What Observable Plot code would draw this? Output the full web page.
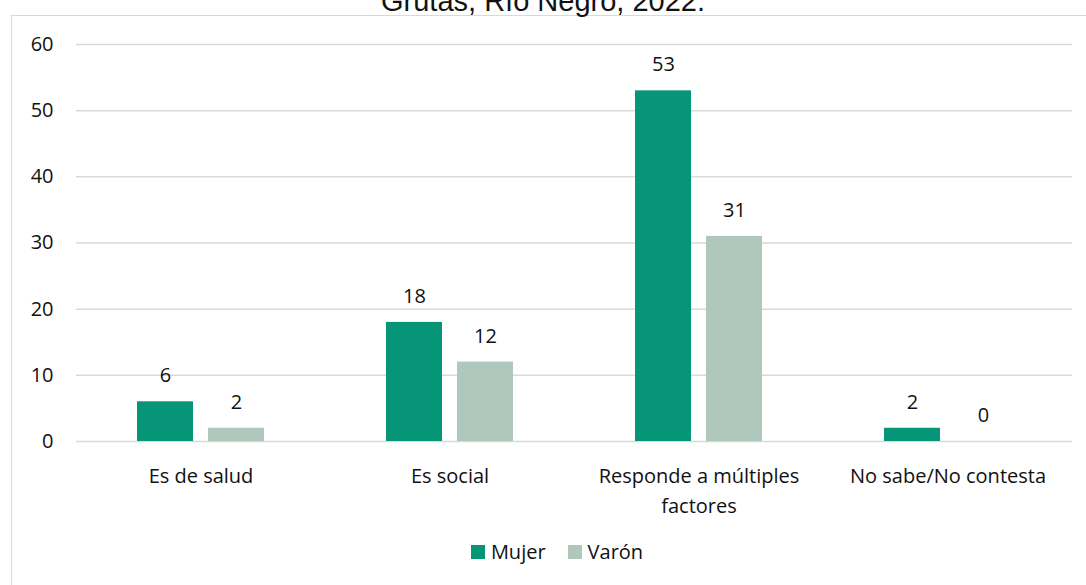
<!DOCTYPE html>
<html>
<head>
<meta charset="utf-8">
<script src="https://cdn.jsdelivr.net/npm/d3@7"></script>
<script src="https://cdn.jsdelivr.net/npm/@observablehq/plot@0.6"></script>
<style>
  html, body { margin: 0; padding: 0; background: #fff; overflow: hidden; }
  #wrap { position: relative; width: 1086px; height: 585px; overflow: hidden; }
  #frame { position: absolute; left: 11px; top: 15px; width: 1090px; height: 600px; border: 1.5px solid #d9d9d9; box-sizing: border-box; }
  #title { position: absolute; left: 0; width: 1086px; top: -13px; line-height: 29px; text-align: center; font-family: "Liberation Sans", Arial, sans-serif; font-size: 29px; color: #111; white-space: nowrap; }
  #chart { position: absolute; left: 0; top: 0; }
  #legend { position: absolute; left: 14px; width: 1086px; top: 540px; line-height: 24px; display: flex; justify-content: center; gap: 22px; font-family: "Open Sans", sans-serif; font-size: 20px; color: #111; }
  .item { display: flex; align-items: center; gap: 6px; }
  .sw { width: 14px; height: 14px; display: inline-block; }
</style>
</head>
<body>
<div id="wrap">
  <div id="frame"></div>
  <div id="title">Grutas, Río Negro, 2022.</div>
  <div id="chart"></div>
  <div id="legend"></div>
</div>
<script>
const categories = ["Es de salud", "Es social", "Responde a múltiples factores", "No sabe/No contesta"];
const categoryLabels = ["Es de salud", "Es social", "Responde a múltiples\nfactores", "No sabe/No contesta"];
const series = ["Mujer", "Varón"];
const mujer = [6, 18, 53, 2];
const varon = [2, 12, 31, 0];
const colors = ["#069677", "#afc8bb"];
const yTicks = [0, 10, 20, 30, 40, 50, 60];

const data = [];
categories.forEach((c, i) => {
  data.push({category: c, sex: "Mujer", value: mujer[i]});
  data.push({category: c, sex: "Varón", value: varon[i]});
});
const labelOf = new Map(categories.map((c, i) => [c, categoryLabels[i]]));
const font = "'Open Sans', sans-serif";
const fs = 20;

const chart = Plot.plot({
  width: 1086,
  height: 530,
  marginLeft: 75,
  marginRight: 14,
  marginTop: 44,
  marginBottom: 89,
  style: {fontFamily: font, fontSize: fs + "px", color: "#111", background: "transparent"},
  fx: {domain: categories, padding: 0, label: null, axis: null},
  x: {domain: series, paddingInner: 0.211, paddingOuter: 0.859, axis: null},
  y: {domain: [0, 60], label: null},
  color: {domain: series, range: colors},
  marks: [
    Plot.gridY(yTicks, {stroke: "#d9d9d9", strokeOpacity: 1, strokeWidth: 1.5}),
    Plot.axisY(yTicks, {tickSize: 0, tickPadding: 23, label: null, fontSize: fs}),
    Plot.axisFx({anchor: "bottom", tickSize: 0, tickPadding: 20, label: null, fontSize: fs, lineHeight: 1.5, tickFormat: d => labelOf.get(d)}),
    Plot.barY(data, {fx: "category", x: "sex", y: "value", fill: "sex"}),
    Plot.text(data, {fx: "category", x: "sex", y: "value", text: d => String(d.value), dy: -26, fontSize: fs, fill: "#111"})
  ]
});
document.getElementById("chart").appendChild(chart);

const legend = document.getElementById("legend");
series.forEach((s, i) => {
  const it = document.createElement("div");
  it.className = "item";
  it.innerHTML = `<span class="sw" style="background:${colors[i]}"></span><span>${s}</span>`;
  legend.appendChild(it);
});
</script>
</body>
</html>
